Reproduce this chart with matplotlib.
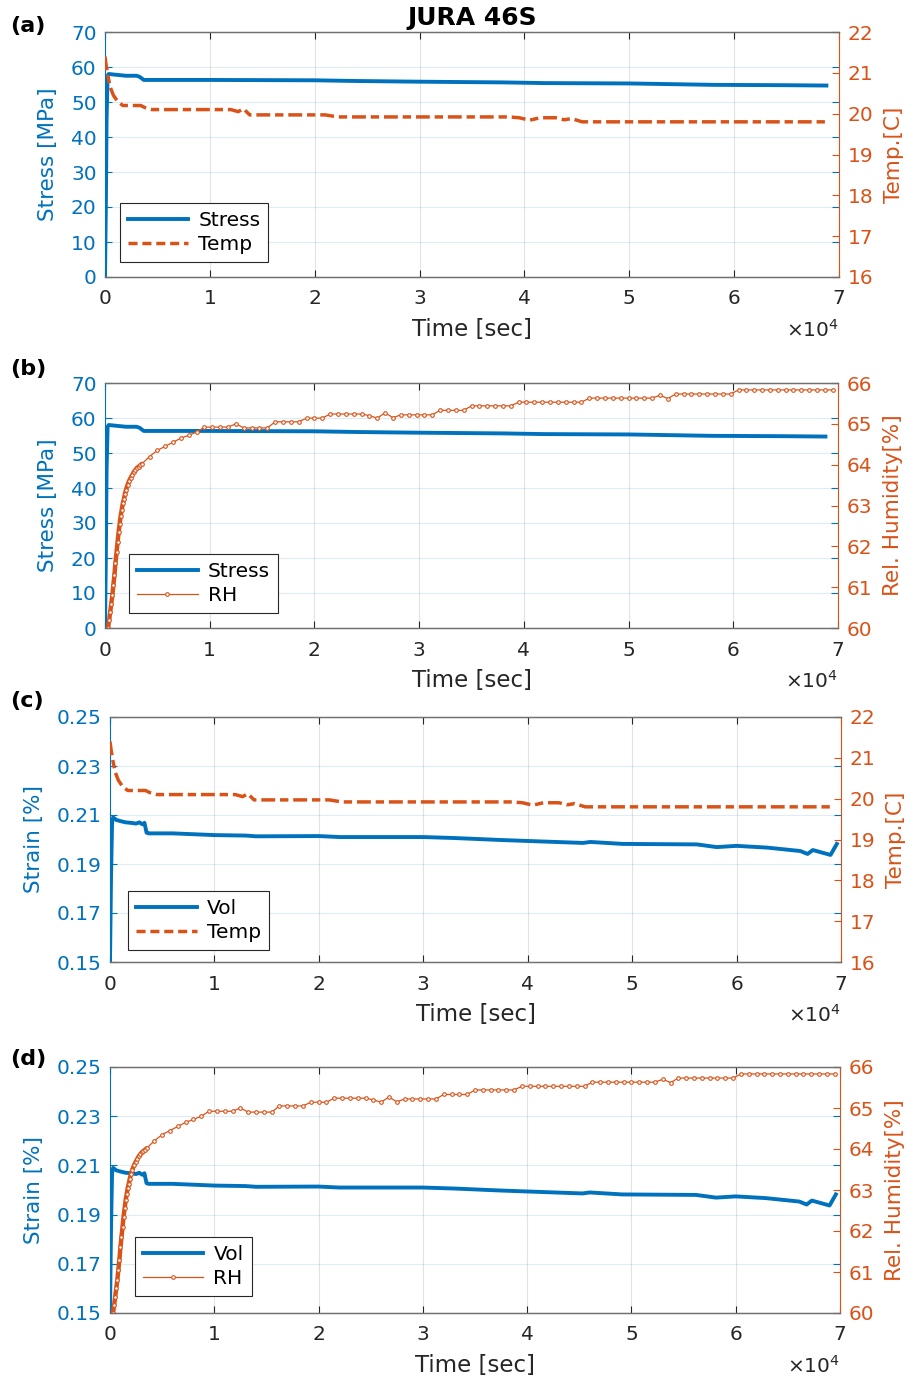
import matplotlib
matplotlib.use("Agg")
import matplotlib.pyplot as plt
from matplotlib.lines import Line2D
from matplotlib.ticker import FormatStrFormatter

# colours used by the original (MATLAB default order)
BLUE = '#0072BD'
ORANGE = '#D95319'
DARK = '#262626'
SPINE = '#707070'

# ---- data (time in seconds) ----
stress_t = [0, 80, 150, 250, 350, 1000, 2000, 3000, 3300, 3700, 10000, 20000, 24000,
            30000, 38000, 42000, 50000, 54000, 58000, 65000, 68800]
stress_v = [0, 20, 45, 57.5, 58.0, 57.8, 57.5, 57.5, 57.2, 56.3, 56.3, 56.2, 56.0,
            55.8, 55.6, 55.4, 55.3, 55.1, 54.9, 54.8, 54.7]

temp_t = [0, 100, 300, 500, 800, 1200, 1700, 3400, 3800, 4500, 12000, 12700, 13200,
          13800, 21000, 22200, 38500, 39500, 40500, 41500, 43000, 43800, 44500, 45500, 69000]
temp_v = [21.4, 21.2, 20.9, 20.65, 20.45, 20.3, 20.2, 20.2, 20.15, 20.1, 20.1, 20.05, 20.12,
          19.97, 19.97, 19.92, 19.92, 19.9, 19.84, 19.9, 19.9, 19.85, 19.88, 19.8, 19.8]

vol_t = [0, 100, 200, 300, 600, 1000, 1500, 2000, 2500, 2800, 3100, 3300, 3500, 3700,
         6000, 10000, 13000, 14000, 20000, 22000, 30000, 33000, 37400, 40000, 45300,
         46000, 49100, 56200, 58100, 60000, 62900, 66100, 66800, 67300, 69000, 69600]
vol_v = [0.15, 0.185, 0.207, 0.209, 0.208, 0.2075, 0.207, 0.2068, 0.2065, 0.207, 0.2062,
         0.2068, 0.2028, 0.2025, 0.2025, 0.2018, 0.2016, 0.2013, 0.2014, 0.201, 0.201,
         0.2006, 0.1998, 0.1994, 0.1986, 0.199, 0.1982, 0.198, 0.1969, 0.1974, 0.1967,
         0.1953, 0.1941, 0.1957, 0.1937, 0.1982]

# first 28 samples are the densely logged start-up, the rest the slow logging
rh_t = [290, 400, 500, 600, 700, 800, 900, 1000, 1100, 1200, 1300, 1400, 1500, 1600,
        1700, 1800, 1900, 2000, 2150, 2300, 2450, 2600, 2750, 2900, 3050, 3200, 3350, 3530,
        4250, 5000, 5750, 6500, 7250, 8000, 8750, 9500, 10250, 11000, 11750, 12500,
        13250, 14000, 14750, 15500, 16250, 17000, 17750, 18500, 19250, 20000, 20750,
        21500, 22250, 23000, 23750, 24500, 25250, 26000, 26750, 27500, 28250, 29000,
        29750, 30500, 31250, 32000, 32750, 33500, 34250, 35000, 35750, 36500, 37250,
        38000, 38750, 39500, 40250, 41000, 41750, 42500, 43250, 44000, 44750, 45500,
        46250, 47000, 47750, 48500, 49250, 50000, 50750, 51500, 52250, 53000, 53750,
        54500, 55250, 56000, 56750, 57500, 58250, 59000, 59750, 60500, 61250, 62000,
        62750, 63500, 64250, 65000, 65750, 66500, 67250, 68000, 68750, 69500]
rh_v = [60.0, 60.2, 60.4, 60.6, 60.8, 61.05, 61.3, 61.6, 61.85, 62.1, 62.35, 62.55, 62.75,
        62.9, 63.05, 63.15, 63.28, 63.38, 63.5, 63.6, 63.68, 63.75, 63.82, 63.87, 63.92,
        63.95, 63.98, 64.02,
        64.2, 64.35, 64.45, 64.55, 64.65, 64.72, 64.8, 64.92, 64.92, 64.92, 64.92, 65.0,
        64.9, 64.9, 64.9, 64.9, 65.05, 65.05, 65.05, 65.05, 65.14, 65.14, 65.14,
        65.24, 65.24, 65.24, 65.24, 65.24, 65.2, 65.14, 65.27, 65.15, 65.22, 65.22,
        65.22, 65.22, 65.22, 65.33, 65.33, 65.33, 65.33, 65.44, 65.44, 65.44, 65.44,
        65.44, 65.44, 65.53, 65.53, 65.53, 65.53, 65.53, 65.53, 65.53, 65.53, 65.53,
        65.63, 65.63, 65.63, 65.63, 65.63, 65.63, 65.63, 65.63, 65.63, 65.7, 65.62,
        65.73, 65.73, 65.73, 65.73, 65.73, 65.73, 65.73, 65.73, 65.83, 65.83, 65.83,
        65.83, 65.83, 65.83, 65.83, 65.83, 65.83, 65.83, 65.83, 65.83, 65.83]
n_dense = 28

x_ticks = [0, 10000, 20000, 30000, 40000, 50000, 60000, 70000]
x_labels = ['0', '1', '2', '3', '4', '5', '6', '7']
stress_ticks = [0, 10, 20, 30, 40, 50, 60, 70]
strain_ticks = [0.15, 0.17, 0.19, 0.21, 0.23, 0.25]
temp_ticks = [16, 17, 18, 19, 20, 21, 22]
rh_ticks = [60, 61, 62, 63, 64, 65, 66]

plt.rcParams['font.family'] = 'DejaVu Sans'

fig = plt.figure(figsize=(9.15, 13.77), dpi=100)
W, H = 915.0, 1377.0


def make_axes(left, right, top, bottom):
    return fig.add_axes([left / W, 1 - bottom / H, (right - left) / W, (bottom - top) / H])


def style(ax, ax2, yticks, ylim, ylabel, y2ticks, y2lim, y2label, fmt=None):
    ax.set_xlim(0, 70000)
    ax.set_xticks(x_ticks)
    ax.set_xticklabels(x_labels)
    ax.set_ylim(*ylim)
    ax.set_yticks(yticks)
    if fmt:
        ax.yaxis.set_major_formatter(FormatStrFormatter(fmt))
    ax2.set_ylim(*y2lim)
    ax2.set_yticks(y2ticks)

    ax.xaxis.grid(True, color=DARK, alpha=0.13, lw=0.8)
    ax.yaxis.grid(True, color=BLUE, alpha=0.13, lw=0.8)

    ax.tick_params(axis='x', direction='in', top=True, length=5, width=0.8,
                   color=DARK, labelcolor=DARK, labelsize=14.5, pad=9)
    ax.tick_params(axis='y', direction='in', right=True, length=5, width=0.8,
                   color=BLUE, labelcolor=BLUE, labelsize=14.5, pad=6)
    ax2.tick_params(axis='y', direction='in', length=5, width=0.8,
                    color=ORANGE, labelcolor=ORANGE, labelsize=14.5, pad=6)

    for a in (ax, ax2):
        for side in ('top', 'bottom'):
            a.spines[side].set_color(SPINE)
            a.spines[side].set_linewidth(0.9)
    ax.spines['left'].set_color(BLUE)
    ax.spines['right'].set_visible(False)
    ax2.spines['left'].set_visible(False)
    ax2.spines['right'].set_color(ORANGE)

    ax.set_xlabel('Time [sec]', fontsize=16.5, color=DARK, labelpad=7)
    ax.set_ylabel(ylabel, fontsize=15.5, color=BLUE, labelpad=9)
    ax2.set_ylabel(y2label, fontsize=15.5, color=ORANGE, labelpad=8)
    ax.text(1.0, -0.215, r'$\times10^4$', transform=ax.transAxes, ha='right', va='center',
            fontsize=14.5, color=DARK)


def add_legend(ax2, handles, labels, anchor):
    leg = ax2.legend(handles, labels, loc='lower left', bbox_to_anchor=anchor,
                     borderaxespad=0, fontsize=14.5, fancybox=False, framealpha=1,
                     edgecolor=DARK, handlelength=3.0, handletextpad=0.5,
                     labelspacing=0.25, borderpad=0.4)
    leg.get_frame().set_linewidth(0.8)


def plot_rh(ax2):
    ax2.plot(rh_t[:n_dense], rh_v[:n_dense], color=ORANGE, lw=3.2, solid_capstyle='round')
    ax2.plot(rh_t, rh_v, color=ORANGE, lw=0.9, marker='o', ms=2.6, mfc='white', mew=0.8)


stress_h = Line2D([], [], color=BLUE, lw=2.8)
vol_h = Line2D([], [], color=BLUE, lw=2.8)
temp_h = Line2D([], [], color=ORANGE, lw=2.5, ls=(0, (2.6, 1.4)))
rh_h = Line2D([], [], color=ORANGE, lw=0.9, marker='o', ms=2.6, mfc='white', mew=0.8)
temp_ls = (0, (4, 1.4, 2.4, 1.4))

# (a) stress + temperature
ax = make_axes(105, 839, 32, 277)
ax2 = ax.twinx()
ax.plot(stress_t, stress_v, color=BLUE, lw=2.8)
ax2.plot(temp_t, temp_v, color=ORANGE, lw=2.5, ls=temp_ls)
style(ax, ax2, stress_ticks, (0, 70), 'Stress [MPa]', temp_ticks, (16, 22), 'Temp.[C]')
add_legend(ax2, [stress_h, temp_h], ['Stress', 'Temp'], (0.02, 0.062))
ax.set_title('JURA 46S', fontsize=18, fontweight='bold', pad=5)

# (b) stress + relative humidity
ax = make_axes(105, 838, 383, 628)
ax2 = ax.twinx()
ax.plot(stress_t, stress_v, color=BLUE, lw=2.8)
plot_rh(ax2)
style(ax, ax2, stress_ticks, (0, 70), 'Stress [MPa]', rh_ticks, (60, 66), 'Rel. Humidity[%]')
add_legend(ax2, [stress_h, rh_h], ['Stress', 'RH'], (0.033, 0.062))

# (c) volumetric strain + temperature
ax = make_axes(110, 841, 717, 962)
ax2 = ax.twinx()
ax.plot(vol_t, vol_v, color=BLUE, lw=2.8)
ax2.plot(temp_t, temp_v, color=ORANGE, lw=2.5, ls=temp_ls)
style(ax, ax2, strain_ticks, (0.15, 0.25), 'Strain [%]', temp_ticks, (16, 22), 'Temp.[C]', '%.2f')
add_legend(ax2, [vol_h, temp_h], ['Vol', 'Temp'], (0.025, 0.05))

# (d) volumetric strain + relative humidity
ax = make_axes(110, 840, 1067, 1313)
ax2 = ax.twinx()
ax.plot(vol_t, vol_v, color=BLUE, lw=2.8)
plot_rh(ax2)
style(ax, ax2, strain_ticks, (0.15, 0.25), 'Strain [%]', rh_ticks, (60, 66), 'Rel. Humidity[%]', '%.2f')
add_legend(ax2, [vol_h, rh_h], ['Vol', 'RH'], (0.034, 0.07))

# panel letters
for lbl, ypix in [('(a)', 26), ('(b)', 369), ('(c)', 701), ('(d)', 1059)]:
    fig.text(10 / W, 1 - ypix / H, lbl, fontsize=16, fontweight='bold', va='center', ha='left')

fig.savefig('out.png', dpi=100)
